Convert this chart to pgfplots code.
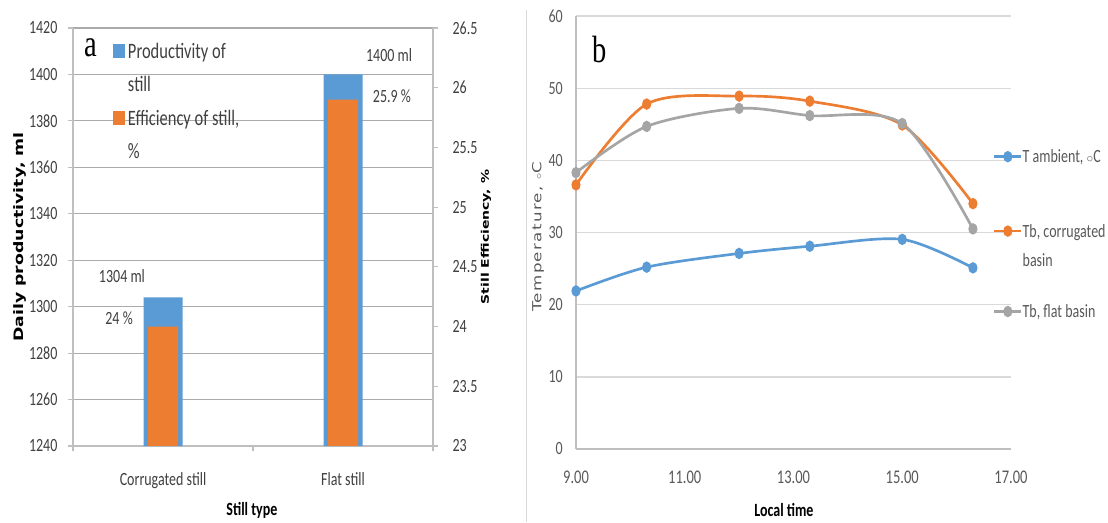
\documentclass[border=0pt]{standalone}
\usepackage{graphicx}
\usepackage{fontspec}
\setmainfont{Carlito}[FakeStretch=0.75]
\newfontfamily\rotbold{DejaVu Sans}
\newfontfamily\rotreg{DejaVu Sans}[LetterSpace=8]
\newfontfamily\serifL{Liberation Serif}[FakeStretch=0.75]
\usepackage{pgfplots}
\pgfplotsset{compat=1.18}
\definecolor{cblue}{HTML}{5B9BD5}
\definecolor{corange}{HTML}{ED7D31}
\definecolor{cgrey}{HTML}{A5A5A5}
\definecolor{gridL}{HTML}{ABABAB}
\definecolor{gridR}{HTML}{D9D9D9}
\definecolor{axL}{HTML}{BFBFBF}
\definecolor{txt}{HTML}{404040}
\definecolor{txtR}{HTML}{595959}
\newcommand\degring{$\scriptstyle\circ$}
\pgfplotsset{
  sqleg/.style={legend image code/.code={\fill[##1] (0pt,-4.9pt) rectangle (9pt,4.9pt);}},
  lpanel/.style={at={(54.75pt,57pt)}, anchor=south west, scale only axis,
    width=270pt, height=313.5pt, xmin=-0.5, xmax=1.5},
  lleg/.style={
    legend cell align=left,
    legend style={at={(0.1111,#1)}, anchor=north west, draw=none, fill=none,
      inner sep=0pt, outer sep=0pt, row sep=9.35pt, column sep=2.25pt,
      nodes={inner sep=0pt, outer sep=0pt, text height=13pt, text depth=2.4pt},
      font=\fontsize{16.5}{19}\selectfont, text=txt}},
  rpanel/.style={at={(432pt,54.75pt)}, anchor=south west, scale only axis,
    width=326.25pt, height=324.75pt, xmin=9, xmax=17, ymin=0, ymax=60},
  rleg/.style={
    legend cell align=left,
    legend image code/.code={\draw[mark repeat=2,mark phase=2,##1] plot coordinates {(0pt,0pt) (10.125pt,0pt) (20.25pt,0pt)};},
    legend style={at={(0.9586,#1)}, anchor=west, draw=none, fill=none,
      inner sep=0pt, outer sep=0pt, row sep=8pt, column sep=0pt,
      nodes={inner sep=0pt, outer sep=0pt, text height=11.5pt, text depth=2.5pt},
      font=\fontsize{14}{16}\selectfont, text=txtR}},
  tline/.style={#1, line width=2pt, mark=*, mark size=3.2pt,
    mark options={xscale=0.75, fill=#1, draw=#1, solid}},
}
\begin{document}
\begin{tikzpicture}
\useasboundingbox (0,0) rectangle (831pt,391.5pt);
\fill[white] (0,0) rectangle (831pt,391.5pt);
\draw[draw=gridR, line width=0.75pt] (394.5pt,0pt) -- (394.5pt,384pt);

% ---------- panel a: productivity (left axis) ----------
\begin{axis}[
  lpanel, ymin=1240, ymax=1420,
  axis x line*=bottom, axis y line*=left,
  axis line style={-, draw=axL, line width=0.9pt},
  xtick={-0.5,0.5,1.5}, xticklabels={Corrugated still, Flat still, {}},
  x tick label style={anchor=base, yshift=-25.9pt, xshift=67.5pt, inner sep=0pt, font=\fontsize{14}{16}\selectfont, text=txt},
  ytick={1240,1260,...,1420},
  y tick label style={anchor=east, inner sep=0pt, xshift=-7.5pt, font=\fontsize{14}{16}\selectfont, text=txt},
  tick align=outside, major tick length=4pt,
  tick style={draw=axL, line width=0.9pt},
  ymajorgrids, grid style={draw=gridL, line width=0.9pt},
  /pgf/number format/1000 sep={}, /pgf/number format/assume math mode=true,
  xlabel={Still type},
  xlabel style={at={(axis description cs:0.497,-0.153)}, anchor=center, font=\bfseries\fontsize{14}{16}\selectfont},
  ylabel={\scalebox{1}[0.75]{\rotbold\bfseries\fontsize{13}{15}\selectfont Daily productivity, ml}},
  ylabel style={at={(axis description cs:-0.147,0.5)}, anchor=center},
  lleg=0.9696,
]
\addplot[ybar, bar width=29.25pt, fill=cblue, draw=none, sqleg] coordinates {(0,1304) (1,1400)};
\addlegendentry{Productivity of}
\addlegendimage{empty legend}
\addlegendentry{still}
\node[font=\fontsize{14}{16}\selectfont, text=txt, fill=white, inner sep=1pt] at (axis cs:-0.228,1313.2) {1304 ml};
\node[font=\fontsize{14}{16}\selectfont, text=txt, fill=white, inner sep=1pt] at (axis cs:1.256,1408.4) {1400 ml};
\end{axis}

% ---------- panel a: efficiency (right axis) ----------
\begin{axis}[
  lpanel, ymin=23, ymax=26.5,
  axis x line=none, axis y line*=right,
  axis line style={-, draw=axL, line width=0.9pt},
  ytick={23,23.5,24,24.5,25,25.5,26,26.5},
  y tick label style={anchor=west, inner sep=0pt, xshift=10.5pt, font=\fontsize{14}{16}\selectfont, text=txt},
  tick align=outside, major tick length=4pt,
  tick style={draw=axL, line width=0.9pt},
  /pgf/number format/assume math mode=true,
  ylabel={\scalebox{1}[0.75]{\rotbold\bfseries\fontsize{10.5}{12}\selectfont Still Efficiency, \%}},
  ylabel style={at={(axis description cs:1.147,0.5)}, anchor=center},
  lleg=0.8093,
]
\addplot[ybar, bar width=22.5pt, fill=corange, draw=none, sqleg] coordinates {(0,24.0) (1,25.9)};
\addlegendentry{Efficiency of still,}
\addlegendimage{empty legend}
\addlegendentry{\%}
\node[font=\fontsize{14}{16}\selectfont, text=txt, fill=white, inner sep=1pt] at (axis cs:-0.244,24.07) {24 \%};
\node[font=\fontsize{14}{16}\selectfont, text=txt, fill=white, inner sep=1pt] at (axis cs:1.272,25.93) {25.9 \%};
\end{axis}

% ---------- panel b: temperatures ----------
\begin{axis}[
  rpanel,
  axis x line*=bottom, axis y line*=left,
  axis line style={-, draw=axL, line width=0.9pt},
  xtick={9,11,13,15,17}, ytick={0,10,...,60},
  major tick length=0pt,
  xticklabel={\pgfmathprintnumber[fixed,fixed zerofill,precision=2]{\tick}},
  x tick label style={anchor=base, yshift=-25.9pt, inner sep=0pt, font=\fontsize{14.5}{16}\selectfont, text=txtR},
  y tick label style={anchor=east, inner sep=0pt, xshift=-9.75pt, font=\fontsize{14}{16}\selectfont, text=txtR},
  /pgf/number format/assume math mode=true,
  ymajorgrids, grid style={draw=gridR, line width=1pt},
  xlabel={Local time},
  xlabel style={at={(axis description cs:0.478,-0.141)}, anchor=center, font=\bfseries\fontsize{14}{16}\selectfont},
  ylabel={\scalebox{1}[0.75]{\rotreg\fontsize{12.5}{14}\selectfont Temperature, \degring C}},
  ylabel style={at={(axis description cs:-0.087,0.49)}, anchor=center, text=txtR},
  rleg=0.6751,
]
\addplot[tline=cblue, smooth]
  coordinates {(9,21.9) (10.3,25.2) (12,27.1) (13.3,28.1) (15,29.05) (16.3,25.1)};
\addlegendentry{T ambient, \degring C}
\addplot[tline=corange, smooth]
  coordinates {(9,36.6) (10.3,47.8) (12,48.9) (13.3,48.2) (15,44.9) (16.3,34.0)};
\addplot[tline=cgrey, smooth]
  coordinates {(9,38.3) (10.3,44.7) (12,47.2) (13.3,46.2) (15,45.1) (16.3,30.5)};
\end{axis}

% legend block: corrugated basin
\begin{axis}[rpanel, hide axis, rleg=0.4694]
\addlegendimage{tline=corange}
\addlegendentry{Tb, corrugated}
\addlegendimage{empty legend}
\addlegendentry{basin}
\end{axis}

% legend block: flat basin
\begin{axis}[rpanel, hide axis, rleg=0.3175]
\addlegendimage{tline=cgrey}
\addlegendentry{Tb, flat basin}
\end{axis}

\node[anchor=base, font=\serifL\fontsize{28.5}{30}\selectfont, inner sep=0pt] at (68.25pt,348.75pt) {a};
\node[anchor=base, font=\serifL\fontsize{28.5}{30}\selectfont, inner sep=0pt] at (450pt,344.25pt) {b};
\end{tikzpicture}
\end{document}
